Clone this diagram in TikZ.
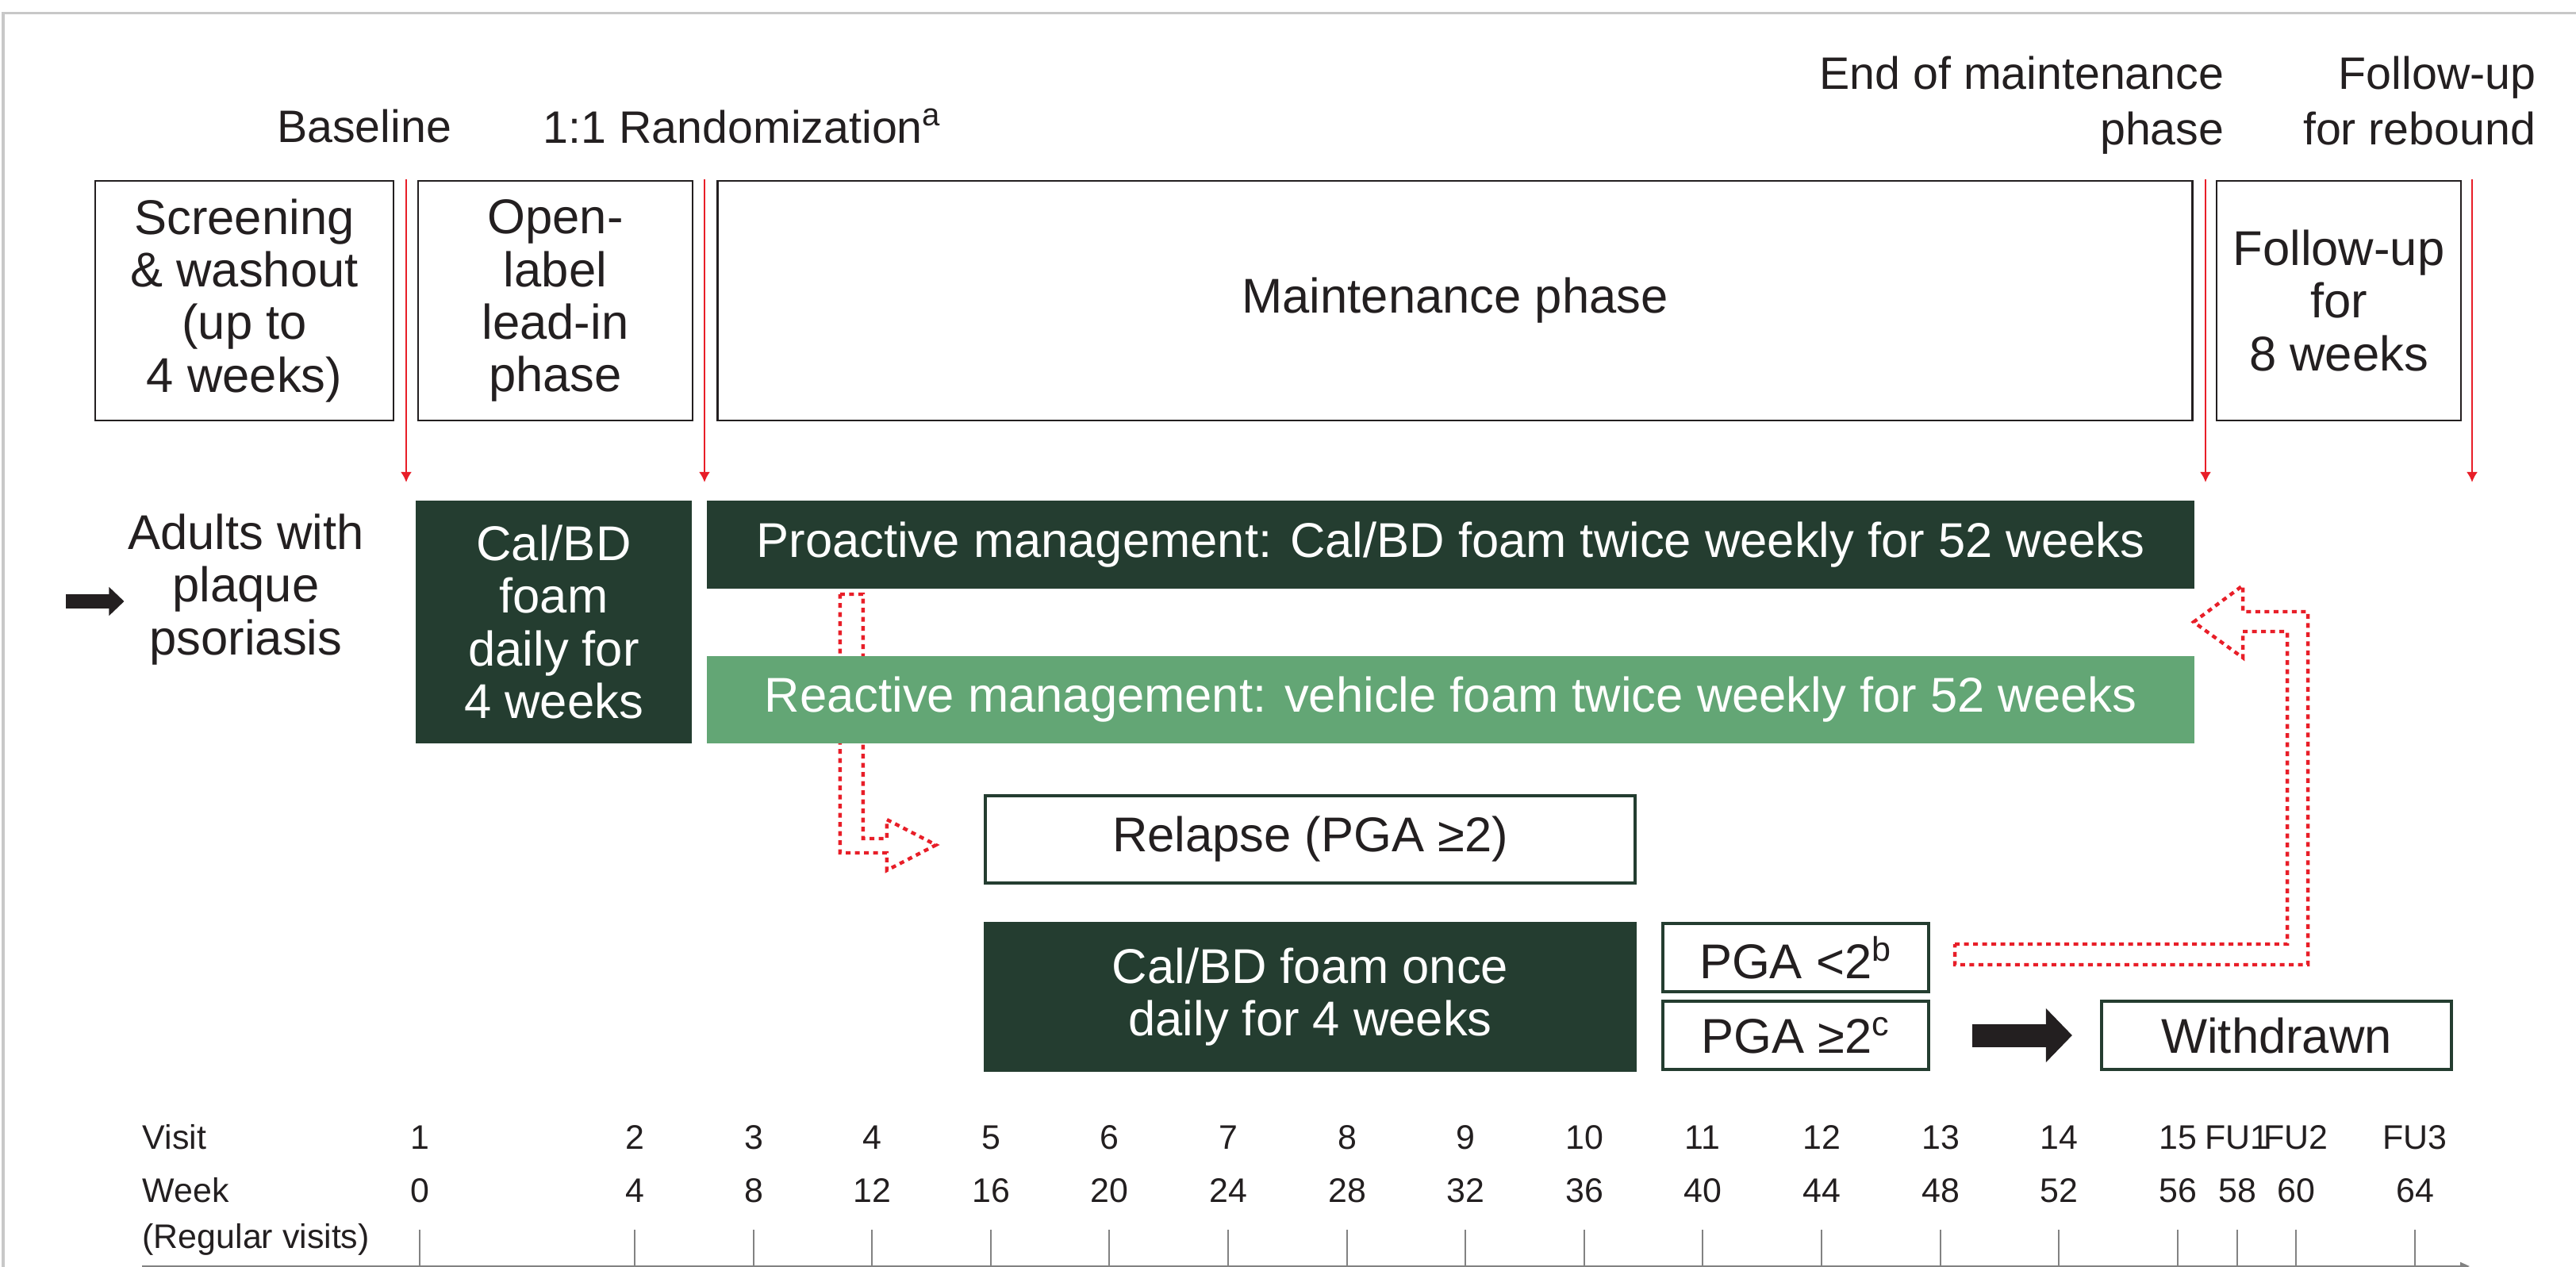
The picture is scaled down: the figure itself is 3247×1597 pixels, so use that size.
\documentclass[tikz,border=0pt]{standalone}
\usepackage{fontspec}
\setmainfont{Liberation Sans}
\usetikzlibrary{arrows.meta,positioning,calc,backgrounds}
\definecolor{darkgreen}{RGB}{36,61,48}
\definecolor{lightgreen}{RGB}{99,166,117}
\definecolor{markred}{RGB}{232,30,40}
\definecolor{darktext}{RGB}{35,31,32}
\definecolor{framegray}{RGB}{200,200,200}
\definecolor{axisgray}{RGB}{130,130,130}

\begin{document}
\begin{tikzpicture}[x=0.01cm,y=-0.01cm,
  every node/.style={inner sep=0pt,align=center,text=darktext},
  toplabel/.style={font=\fontsize{16.3}{19.9}\selectfont},
  boxtext/.style={font=\fontsize{17.5}{18.8}\selectfont},
  phasebox/.style={boxtext,draw=darktext,line width=0.7pt},
  darkbox/.style={boxtext,fill=darkgreen,text=white},
  lightbox/.style={boxtext,fill=lightgreen,text=white},
  outcomebox/.style={boxtext,draw=darkgreen,line width=1.1pt,fill=white},
  axislabel/.style={font=\fontsize{12.2}{14}\selectfont},
  marker/.style={draw=markred,line width=0.8pt,-{Latex[length=0.13cm,width=0.14cm]}},
  hollowarrow/.style={draw=markred,line width=1.25pt,dash pattern=on 0.06cm off 0.055cm},
  blockarrow/.style={draw=darktext,-{Triangle[length=0.19cm 0 0,width=0.35cm 0 0]}}]
\useasboundingbox(0,0)rectangle(3247,1597);
\draw[framegray,line width=0.03cm](4,1700)--(4,17)--(3400,17);
% phases
\node[phasebox,minimum width=3.76cm,minimum height=3.02cm](screen)at(308,379)
  {Screening\\\& washout\\(up to\\4 weeks)};
\node[phasebox,minimum width=3.46cm,minimum height=3.02cm](openlbl)at(700,379)
  {Open-\\label\\lead-in\\phase};
\node[phasebox,minimum width=18.58cm,minimum height=3.02cm](maint)at(1834,379)
  {Maintenance phase};
\node[phasebox,minimum width=3.08cm,minimum height=3.02cm](followup)at(2948,379)
  {Follow-up\\for\\8 weeks};
\node[toplabel](baseline)at(459,159){Baseline};
\node[toplabel](random)at(936,159){1:1 Randomization\textsuperscript{a}};
\node[toplabel,align=right,anchor=east](endmaint)at(2804,133){End of maintenance\\phase};
\node[toplabel,align=right,anchor=east](rebound)at(3197,127){Follow-up\\for rebound};
\foreach \i/\x in {1/512,2/888,3/2780,4/3116}{
  \coordinate(mk\i)at(\x,226);
  \draw[marker](mk\i)--++(0,382);}
% treatment
\node[boxtext](adults)at(310,743){Adults with\\plaque\\psoriasis};
\node[darkbox,minimum width=3.48cm,minimum height=3.06cm](leadin)at(698,784)
  {Cal/BD\\foam\\daily for\\4 weeks};
\node[darkbox,minimum width=18.73cm,minimum height=1.11cm](proact)at(1828.5,686.5)
  {Proactive management: Cal/BD foam twice weekly for 52 weeks};
\node[lightbox,minimum width=18.73cm,minimum height=1.10cm](react)at(1828.5,882)
  {Reactive management: vehicle foam twice weekly for 52 weeks};
\node[outcomebox,minimum width=8.19cm,minimum height=1.10cm](relapse)at(1651.5,1058)
  {Relapse (PGA ≥2)};
\node[darkbox,minimum width=8.23cm,minimum height=1.89cm](rescue)at(1651.5,1256.5)
  {Cal/BD foam once\\daily for 4 weeks};
\node[outcomebox,minimum width=3.35cm,minimum height=0.86cm](pgalow)at(2263.5,1207)
  {PGA <2\textsuperscript{b}};
\node[outcomebox,minimum width=3.35cm,minimum height=0.86cm](pgahigh)at(2263.5,1305)
  {PGA ≥2\textsuperscript{c}};
\node[outcomebox,minimum width=4.41cm,minimum height=0.86cm](withdrawn)at(2869.5,1305)
  {Withdrawn};
\coordinate(entry)at(83,758);
\draw[blockarrow,line width=0.17cm,shorten >=0.04cm](entry)--(entry-|adults.west);
\draw[blockarrow,line width=0.29cm,-{Triangle[length=0.33cm 0 0,width=0.66cm 0 0]},
  shorten <=0.53cm,shorten >=0.35cm](pgahigh.east)--(withdrawn.west);
\begin{scope}[on background layer]
\draw[hollowarrow,shift={(relapse.west)}](-181,-309)--(-152,-309)--(-152,-1)--(-122,-1)
  --(-122,-25)--(-60,7)--(-122,39)--(-122,17)--(-181,17)--cycle;
\draw[hollowarrow,shift={(pgalow.east)}](31,-17)--(450,-17)--(450,-411)--(394,-411)
  --(394,-378)--(332,-423)--(394,-469)--(394,-436)--(476,-436)--(476,9)--(31,9)--cycle;
\end{scope}
% visit axis
\node[axislabel,anchor=base west](visitlbl)at(179,1448){Visit};
\node[axislabel,anchor=base west](weeklbl)at(179,1515){Week};
\node[axislabel,anchor=base west](regular)at(179,1573){(Regular visits)};
\coordinate(axis0)at(179,1596);
\coordinate(axis1)at(3113,1596);
\draw[axisgray,line width=0.02cm,-{Triangle[length=0.12cm,width=0.1cm]}](axis0)--(axis1);
\foreach \x/\v/\w in {529/1/0,800/2/4,950/3/8,1099/4/12,1249/5/16,1398/6/20,1548/7/24,
  1698/8/28,1847/9/32,1997/10/36,2146/11/40,2296/12/44,2446/13/48,2595/14/52,
  2745/15/56,2820/FU1/58,2894/FU2/60,3044/FU3/64}{
  \node[axislabel,anchor=base](v\w)at(\x,1448){\v};
  \node[axislabel,anchor=base](w\w)at(\x,1515){\w};
  \draw[axisgray,line width=0.015cm](\x,1550)--(\x,1596);}
\end{tikzpicture}
\end{document}
